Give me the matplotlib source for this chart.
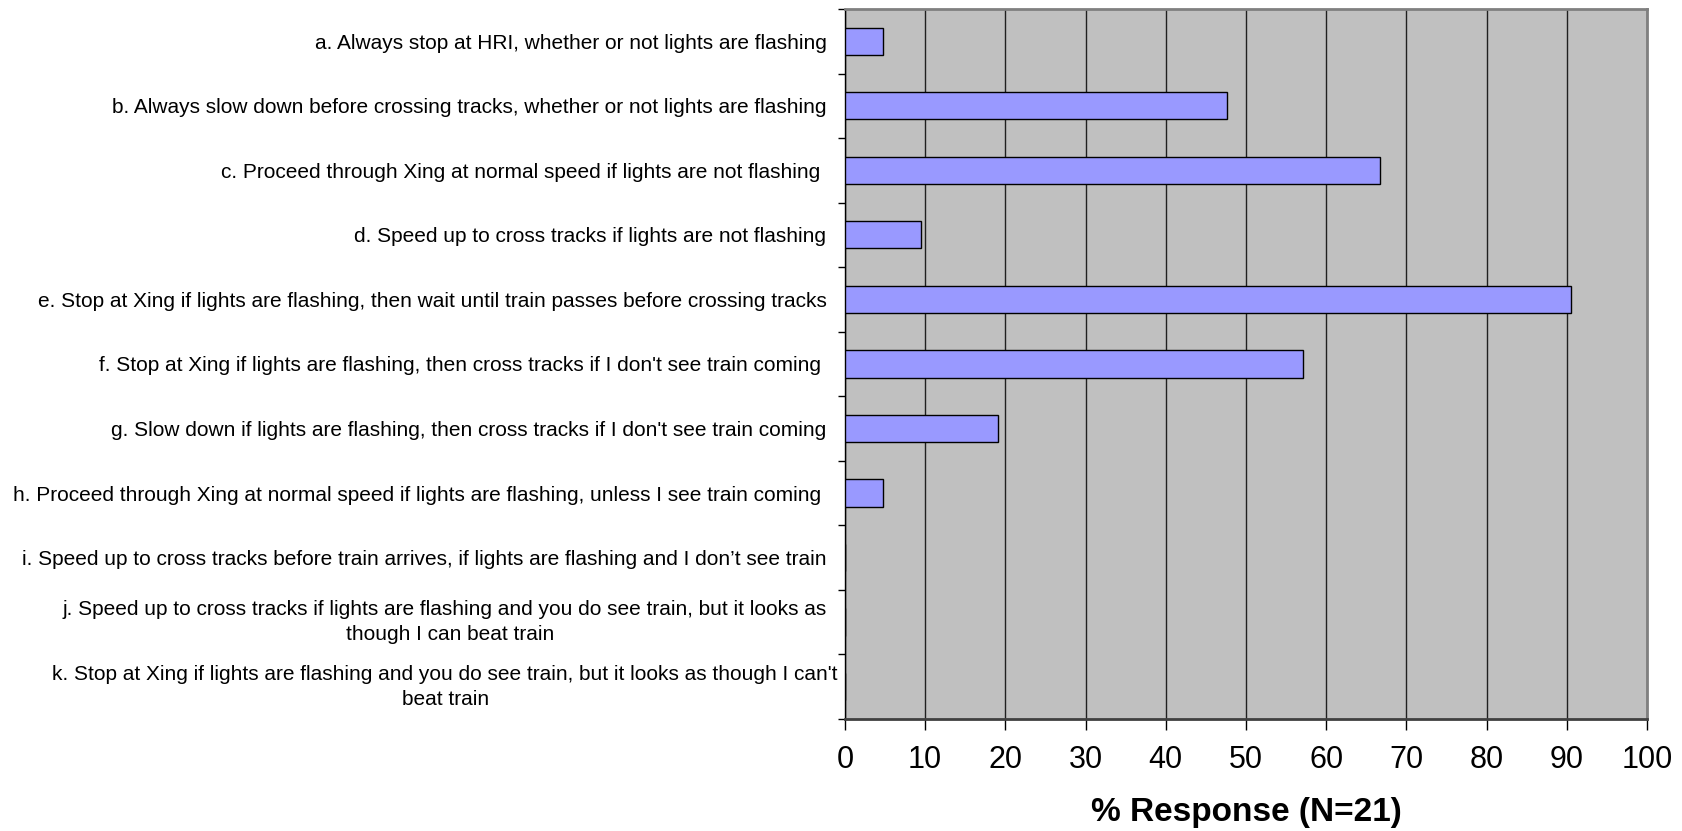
#!/usr/bin/env python3
"""Horizontal bar chart: % response per driver behaviour at HRI (N=21)."""
import matplotlib

matplotlib.use("Agg")
import matplotlib.pyplot as plt
import numpy as np

plt.rcParams["font.family"] = ["Liberation Sans", "DejaVu Sans"]

labels = [
    "a. Always stop at HRI, whether or not lights are flashing  ",
    "b. Always slow down before crossing tracks, whether or not lights are flashing  ",
    "c. Proceed through Xing at normal speed if lights are not flashing   ",
    "d. Speed up to cross tracks if lights are not flashing  ",
    "e. Stop at Xing if lights are flashing, then wait until train passes before crossing tracks  ",
    "f. Stop at Xing if lights are flashing, then cross tracks if I don't see train coming   ",
    "g. Slow down if lights are flashing, then cross tracks if I don't see train coming  ",
    "h. Proceed through Xing at normal speed if lights are flashing, unless I see train coming   ",
    "i. Speed up to cross tracks before train arrives, if lights are flashing and I don\u2019t see train  ",
    "j. Speed up to cross tracks if lights are flashing and you do see train, but it looks as  \nthough I can beat train",
    "k. Stop at Xing if lights are flashing and you do see train, but it looks as though I can't\nbeat train",
]
pct = [4.76, 47.62, 66.67, 9.52, 90.48, 57.14, 19.05, 4.76, 0.0, 0.0, 0.0]
xticks = [0, 10, 20, 30, 40, 50, 60, 70, 80, 90, 100]

fig = plt.figure(figsize=(16.83, 8.31), dpi=100)
ax = fig.add_axes([0.502, 0.135, 0.4766, 0.854])
ax.set_facecolor("#C0C0C0")

y = np.arange(len(labels))
ax.barh(y, pct, height=0.42, color="#9999FF", edgecolor="black", lw=1.0, zorder=3)

ax.set_xlim(0, 100)
ax.set_ylim(len(labels) - 0.5, -0.5)
ax.set_xticks(xticks)
ax.xaxis.grid(True, color="#202020", lw=1.0, zorder=0)
ax.set_axisbelow(True)

ax.set_yticks(y)
ax.set_yticklabels(labels, fontsize=15)
for t in ax.get_yticklabels():
    t.set_multialignment("center")
    if "\n" in t.get_text():
        t.set_linespacing(1.4)
        t.set_verticalalignment("center")
ax.set_yticks(np.arange(-0.5, len(labels)), minor=True)
ax.tick_params(axis="y", which="major", length=0, pad=5)
ax.tick_params(axis="y", which="minor", length=5, width=1, color="black")
ax.tick_params(axis="x", length=8, width=1, labelsize=22, pad=11)

ax.set_xlabel("% Response (N=21)", fontsize=24, fontweight="bold", labelpad=16)

for side in ("top", "right"):
    ax.spines[side].set_color("#808080")
    ax.spines[side].set_linewidth(2.0)
ax.spines["bottom"].set_color("#404040")
ax.spines["bottom"].set_linewidth(2.0)
ax.spines["left"].set_color("black")
ax.spines["left"].set_linewidth(1.0)

fig.savefig("out.png", dpi=100)
